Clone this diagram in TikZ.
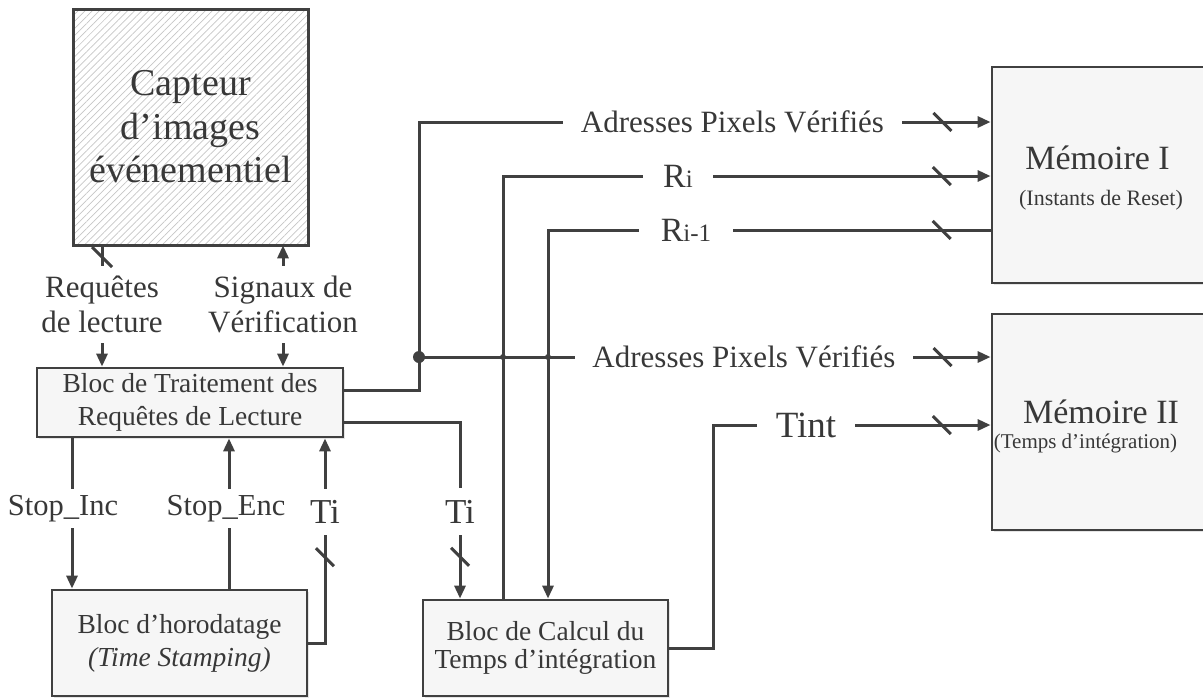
\documentclass[tikz,border=0pt]{standalone}
\usepackage{fontspec}
\setmainfont{Liberation Serif}
\usetikzlibrary{arrows.meta,calc,patterns.meta,shadows}
\definecolor{ink}{HTML}{404040}
\definecolor{txt}{HTML}{383838}
\definecolor{boxfill}{HTML}{F6F6F6}
\newcommand{\fsz}[2]{\fontsize{#1}{#2}\selectfont}

\begin{document}
\begin{tikzpicture}[x=1pt,y=-1pt,
  wire/.style={draw=ink,line width=3pt},
  sig/.style={wire,-{Triangle[length=13pt,width=11pt]}},
  blockbox/.style={draw=ink,line width=2.8pt,rectangle,fill=boxfill,
    drop shadow={shadow xshift=1.5pt,shadow yshift=-2pt,fill=black!20},
    text=txt,align=center,inner sep=0pt},
  lbl/.style={inner sep=0pt,text=txt,align=center},
  vgap/.style={lbl,minimum height=#1},
  hgap/.style={lbl,minimum width=#1}]

\path[use as bounding box] (0,0) rectangle (1203,697);
\clip (0,0) rectangle (1203,697);

% ---- blocks ----
\node[draw=ink,line width=3pt,fill=white,
      pattern={Lines[angle=45,distance=5pt,line width=0.7pt]},pattern color=gray!45,
      minimum width=235,minimum height=236,text=txt,align=center,inner sep=0pt,
      font=\fsz{38}{43.5}]
  (cap) at (190.5,127) {Capteur\\d’images\\événementiel};

\node[blockbox,minimum width=306,minimum height=69,font=\fsz{27.5}{33}] (btr) at (190,402.5)
  {Bloc de Traitement des\\Requêtes de Lecture};

\node[blockbox,minimum width=255,minimum height=106,font=\fsz{27.5}{33}] (hor) at (179.5,643)
  {Bloc d’horodatage\\\textit{(Time Stamping)}};

\node[blockbox,minimum width=245,minimum height=96,font=\fsz{27.5}{28}] (calc) at (545.5,648)
  {Bloc de Calcul du\\Temps d’intégration};

\node[blockbox,minimum width=223,minimum height=216] (m1) at (1103.5,175) {};
\node[blockbox,minimum width=223,minimum height=216] (m2) at (1103.5,422) {};

\node[lbl,font=\fsz{34}{40}] (m1t) at (1097.5,158) {Mémoire I};
\node[lbl,font=\fsz{22}{26}] (m1s) at (1101,200) {(Instants de Reset)};
\node[lbl,font=\fsz{34}{40}] (m2t) at (1101,412) {Mémoire II};
\node[lbl,font=\fsz{21}{25}] (m2s) at (1085.5,443) {(Temps d’intégration)};

% ---- signal labels (each one sits in the gap of its line) ----
\node[vgap=77,font=\fsz{31}{35}] (req) at (102,304.5) {Requêtes\\de lecture};
\node[vgap=77,font=\fsz{31}{35}] (sigv) at (283,304.5) {Signaux de\\Vérification};
\node[vgap=39,font=\fsz{30.5}{35}] (inc) at (63,508.5) {Stop\_Inc};
\node[vgap=39,font=\fsz{30.5}{35}] (enc) at (226,508.5) {Stop\_Enc};
\node[vgap=46,font=\fsz{35}{40}] (tiL) at (325,512) {Ti};
\node[vgap=47,font=\fsz{35}{40}] (tiR) at (460,511.5) {Ti};
\node[hgap=339,font=\fsz{31}{35}] (adr1) at (732.5,122) {Adresses Pixels Vérifiés};
\node[hgap=338,font=\fsz{31}{35}] (adr2) at (744,357) {Adresses Pixels Vérifiés};
\node[hgap=70,font=\fsz{34}{40}] (ri) at (678,176) {R{\fsz{25}{30}i}};
\node[hgap=94,font=\fsz{34}{40}] (ri1) at (686,230) {R{\fsz{25}{30}i-1}};
\node[hgap=98,font=\fsz{37}{42}] (tint) at (806,425) {Tint};

% ---- routing points ----
\coordinate (incx) at (72,508.5);
\coordinate (encx) at (229,508.5);
\coordinate (bus) at (419,357);
\coordinate (rix) at (503,357);
\coordinate (ri1x) at (548,357);
\coordinate (tintx) at (713,425);

% ---- connectors ----
\draw[wire] (cap.south -| req) -- coordinate[pos=0.57] (s0) (req.north);
\draw[sig] (req.south) -- (req.south |- btr.north);
\draw[sig] (sigv.north) -- (sigv.north |- cap.south);
\draw[sig] (sigv.south) -- (sigv.south |- btr.north);

\draw[wire] (btr.south -| incx) -- (inc.north -| incx);
\draw[sig] (inc.south -| incx) -- (hor.north -| incx);
\draw[wire] (hor.north -| encx) -- (enc.south -| encx);
\draw[sig] (enc.north -| encx) -- (btr.south -| encx);

\draw[wire] (hor.east) -| coordinate[pos=0.898] (s1) (tiL.south);
\draw[sig] (tiL.north) -- (tiL.north |- btr.south);

\draw[wire] ($(btr.east)+(0,19.5)$) -| (tiR.north);
\draw[sig] (tiR.south) -- coordinate[pos=0.34] (s2) (tiR.south |- calc.north);

\draw[wire] ($(btr.east)+(0,-12.5)$) -| (bus) |- (adr1.west);
\draw[wire] (bus) -- (adr2.west);
\fill[ink] (bus) circle (6pt);
\fill[ink] (rix) circle (3pt);
\fill[ink] (ri1x) circle (3pt);

\draw[wire] (calc.north -| rix) |- (ri.west);
\draw[sig] (ri1.west) -| (calc.north -| ri1x);
\draw[wire] (calc.east) -| (tintx) -- (tint.west);

\draw[sig] (adr1.east) -- coordinate[pos=0.455] (s3) (adr1.east -| m1.west);
\draw[sig] (ri.east) -- coordinate[pos=0.824] (s4) (ri.east -| m1.west);
\draw[wire] (ri1.east) -- coordinate[pos=0.81] (s5) (ri1.east -| m1.west);
\draw[sig] (adr2.east) -- coordinate[pos=0.38] (s6) (adr2.east -| m2.west);
\draw[sig] (tint.east) -- coordinate[pos=0.64] (s7) (tint.east -| m2.west);

% bus-width ticks
\draw[wire] ($(s0)+(-10,-10)$) -- ($(s0)+(10,10)$);
\foreach \s in {s1,s2,s3,s4,s5,s6,s7}
  \draw[wire] ($(\s)+(-9,-9)$) -- ($(\s)+(9,9)$);
\end{tikzpicture}
\end{document}
